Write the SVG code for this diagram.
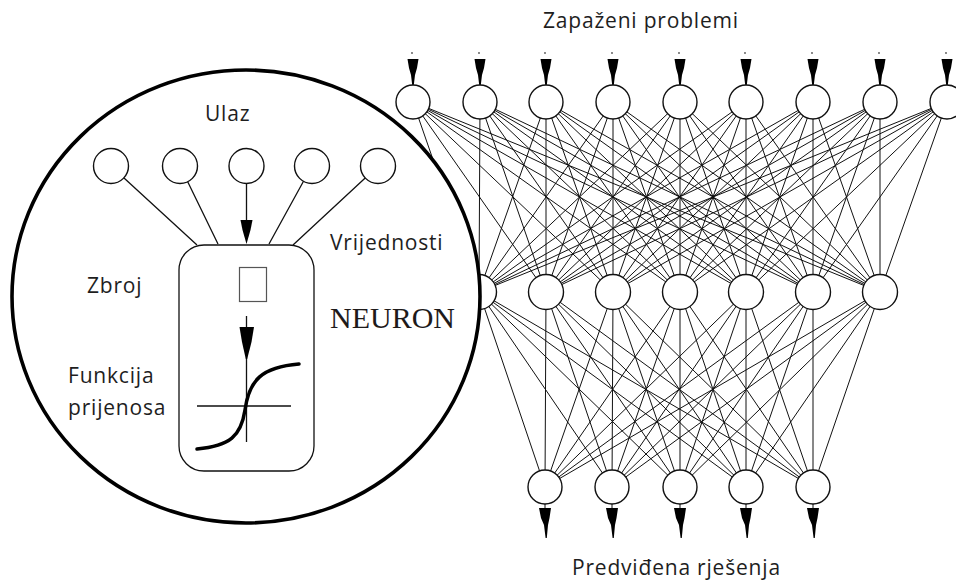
<svg xmlns="http://www.w3.org/2000/svg" width="956" height="581" viewBox="0 0 956 581">
<style>
.edge{fill:none;stroke:#111;stroke-width:1}
.node{fill:#fff;stroke:#111;stroke-width:1.4}
.arr{fill:#000;stroke:none}
.dot{fill:#555}
.lbl{font-family:"Open Sans","Noto Sans",sans-serif;font-size:21px;fill:#1e1e1e;letter-spacing:0.8px}
.serif{font-family:"Liberation Serif","Times New Roman",serif;font-size:30px;fill:#1e1a1a}
.thin{fill:none;stroke:#111;stroke-width:1.3}
</style>
<rect width="956" height="581" fill="#fff"/>

<g id="connectors">
<path class="edge" d="M413 102L479 292M413 102L546 292M413 102L613 292M413 102L680 292M413 102L746 292M413 102L813 292M413 102L880 292"/>
<path class="edge" d="M480 102L479 292M480 102L546 292M480 102L613 292M480 102L680 292M480 102L746 292M480 102L813 292M480 102L880 292"/>
<path class="edge" d="M546 102L479 292M546 102L546 292M546 102L613 292M546 102L680 292M546 102L746 292M546 102L813 292M546 102L880 292"/>
<path class="edge" d="M613 102L479 292M613 102L546 292M613 102L613 292M613 102L680 292M613 102L746 292M613 102L813 292M613 102L880 292"/>
<path class="edge" d="M680 102L479 292M680 102L546 292M680 102L613 292M680 102L680 292M680 102L746 292M680 102L813 292M680 102L880 292"/>
<path class="edge" d="M746 102L479 292M746 102L546 292M746 102L613 292M746 102L680 292M746 102L746 292M746 102L813 292M746 102L880 292"/>
<path class="edge" d="M813 102L479 292M813 102L546 292M813 102L613 292M813 102L680 292M813 102L746 292M813 102L813 292M813 102L880 292"/>
<path class="edge" d="M880 102L479 292M880 102L546 292M880 102L613 292M880 102L680 292M880 102L746 292M880 102L813 292M880 102L880 292"/>
<path class="edge" d="M947 102L479 292M947 102L546 292M947 102L613 292M947 102L680 292M947 102L746 292M947 102L813 292M947 102L880 292"/>

<path class="edge" d="M479 292L545 487M479 292L612 487M479 292L680 487M479 292L746 487M479 292L813 487"/>
<path class="edge" d="M546 292L545 487M546 292L612 487M546 292L680 487M546 292L746 487M546 292L813 487"/>
<path class="edge" d="M613 292L545 487M613 292L612 487M613 292L680 487M613 292L746 487M613 292L813 487"/>
<path class="edge" d="M680 292L545 487M680 292L612 487M680 292L680 487M680 292L746 487M680 292L813 487"/>
<path class="edge" d="M746 292L545 487M746 292L612 487M746 292L680 487M746 292L746 487M746 292L813 487"/>
<path class="edge" d="M813 292L545 487M813 292L612 487M813 292L680 487M813 292L746 487M813 292L813 487"/>
<path class="edge" d="M880 292L545 487M880 292L612 487M880 292L680 487M880 292L746 487M880 292L813 487"/>

<g id="input-arrows">
<circle class="dot" cx="412" cy="53" r="0.9"/><polygon class="arr" points="407.5,59 418.5,59 417,68 415,75 413.8,85 412.2,85 411,75 409,68"/>
<circle class="dot" cx="479" cy="53" r="0.9"/><polygon class="arr" points="474.5,59 485.5,59 484,68 482,75 480.8,85 479.2,85 478,75 476,68"/>
<circle class="dot" cx="545" cy="53" r="0.9"/><polygon class="arr" points="540.5,59 551.5,59 550,68 548,75 546.8,85 545.2,85 544,75 542,68"/>
<circle class="dot" cx="612" cy="53" r="0.9"/><polygon class="arr" points="607.5,59 618.5,59 617,68 615,75 613.8,85 612.2,85 611,75 609,68"/>
<circle class="dot" cx="679" cy="53" r="0.9"/><polygon class="arr" points="674.5,59 685.5,59 684,68 682,75 680.8,85 679.2,85 678,75 676,68"/>
<circle class="dot" cx="745" cy="53" r="0.9"/><polygon class="arr" points="740.5,59 751.5,59 750,68 748,75 746.8,85 745.2,85 744,75 742,68"/>
<circle class="dot" cx="812" cy="53" r="0.9"/><polygon class="arr" points="807.5,59 818.5,59 817,68 815,75 813.8,85 812.2,85 811,75 809,68"/>
<circle class="dot" cx="879" cy="53" r="0.9"/><polygon class="arr" points="874.5,59 885.5,59 884,68 882,75 880.8,85 879.2,85 878,75 876,68"/>
<circle class="dot" cx="946" cy="53" r="0.9"/><polygon class="arr" points="941.5,59 952.5,59 951,68 949,75 947.8,85 946.2,85 945,75 943,68"/>
</g>
<g id="output-arrows">
<path class="edge" d="M545 504V509M612 504V509M680 504V509M746 504V509M813 504V509" stroke-width="1.5"/>
<polygon class="arr" points="539,508 551,508 549.5,518 548,525 546.8,538 545.6,538 544,525 541,518"/>
<polygon class="arr" points="606,508 618,508 616.5,518 615,525 613.8,538 612.6,538 611,525 608,518"/>
<polygon class="arr" points="674,508 686,508 684.5,518 683,525 681.8,538 680.6,538 679,525 676,518"/>
<polygon class="arr" points="740,508 752,508 750.5,518 749,525 747.8,538 746.6,538 745,525 742,518"/>
<polygon class="arr" points="807,508 819,508 817.5,518 816,525 814.8,538 813.6,538 812,525 809,518"/>
</g>
</g>

<g id="input-layer">
<circle id="in1" class="node" cx="413" cy="102" r="17"/>
<circle id="in2" class="node" cx="480" cy="102" r="17"/>
<circle id="in3" class="node" cx="546" cy="102" r="17"/>
<circle id="in4" class="node" cx="613" cy="102" r="17"/>
<circle id="in5" class="node" cx="680" cy="102" r="17"/>
<circle id="in6" class="node" cx="746" cy="102" r="17"/>
<circle id="in7" class="node" cx="813" cy="102" r="17"/>
<circle id="in8" class="node" cx="880" cy="102" r="17"/>
<circle id="in9" class="node" cx="947" cy="102" r="17"/>
</g>
<g id="hidden-layer">
<circle id="h1" class="node" cx="479" cy="292" r="17.5"/>
<circle id="h2" class="node" cx="546" cy="292" r="17.5"/>
<circle id="h3" class="node" cx="613" cy="292" r="17.5"/>
<circle id="h4" class="node" cx="680" cy="292" r="17.5"/>
<circle id="h5" class="node" cx="746" cy="292" r="17.5"/>
<circle id="h6" class="node" cx="813" cy="292" r="17.5"/>
<circle id="h7" class="node" cx="880" cy="292" r="17.5"/>
</g>
<g id="output-layer">
<circle id="o1" class="node" cx="545" cy="487" r="17"/>
<circle id="o2" class="node" cx="612" cy="487" r="17"/>
<circle id="o3" class="node" cx="680" cy="487" r="17"/>
<circle id="o4" class="node" cx="746" cy="487" r="17"/>
<circle id="o5" class="node" cx="813" cy="487" r="17"/>
</g>

<g id="neuron-inset">
<ellipse cx="246" cy="296.5" rx="234" ry="226.5" fill="#fff" stroke="#000" stroke-width="3.6"/>
<g id="inset-inputs">
<circle id="u1" class="node" cx="111" cy="166" r="17.5"/>
<circle id="u2" class="node" cx="180" cy="166" r="17.5"/>
<circle id="u3" class="node" cx="246.5" cy="166" r="17.5"/>
<circle id="u4" class="node" cx="312" cy="166" r="17.5"/>
<circle id="u5" class="node" cx="378" cy="166" r="17.5"/>
</g>
<g id="inset-connectors">
<path class="thin" d="M124 178L197 245M187.7 181.7L218 244M303.5 181.3L269 244M365.2 177.9L293 245M246.5 183.5V222"/>
<polygon class="arr" points="240.5,220 252.5,220 250.5,230 246.5,244 242.5,230"/>
</g>
<g id="neuron-body">
<rect x="179" y="245" width="135" height="226" rx="25" ry="25" class="thin"/>
<rect x="239.5" y="267.5" width="27" height="34" fill="none" stroke="#555" stroke-width="1.2"/>
<path class="thin" d="M246.5 316V330M246.5 356V442M197 406H291"/>
<polygon class="arr" points="239.5,327 254,327 251.5,342 247.2,359 245.8,359 242,342"/>
<path d="M197 449C230 446 241 436 245 410C249 380 262 367 299 364" fill="none" stroke="#000" stroke-width="3.5" stroke-linecap="round"/>
</g>
<text class="lbl" x="205" y="121">Ulaz</text>
<text class="lbl" x="330" y="250">Vrijednosti</text>
<text class="lbl" x="87" y="293">Zbroj</text>
<text class="serif" x="330" y="328">NEURON</text>
<text class="lbl" x="68" y="383">Funkcija</text>
<text class="lbl" x="68" y="415">prijenosa</text>
</g>

<text class="lbl" x="543" y="28">Zapaženi problemi</text>
<text class="lbl" x="572" y="575">Predviđena rješenja</text>
</svg>
